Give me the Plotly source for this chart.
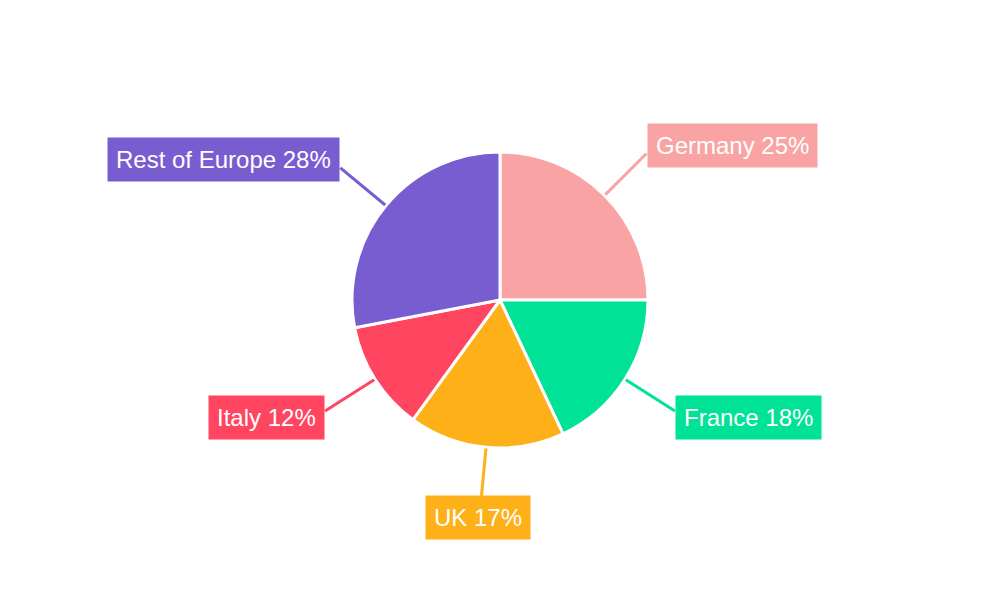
import math
import plotly.graph_objects as go

# slices, clockwise from 12 o'clock
regions = ["Germany", "France", "UK", "Italy", "Rest of Europe"]
shares = [25, 18, 17, 12, 28]
colors = ["#f9a3a4", "#00e396", "#feb019", "#ff4560", "#775dd0"]

W, H = 1000, 600
# page body adds an 8px offset, so the centre sits 8px up/left in figure space
cx, cy, r = 492, 292, 148

fig = go.Figure(go.Pie(
    labels=regions, values=shares, sort=False, direction="clockwise", rotation=0,
    marker=dict(colors=colors, line=dict(color="white", width=3)),
    textinfo="none", hoverinfo="label+percent", showlegend=False,
    domain=dict(x=[(cx - r) / W, (cx + r) / W], y=[1 - (cy + r) / H, 1 - (cy - r) / H]),
))

# leader lines + boxed labels, placed at each slice's mid angle
total = sum(shares)
acc = 0
shapes, annotations = [], []
for name, val, col in zip(regions, shares, colors):
    mid = (acc + val / 2) / total * 2 * math.pi
    acc += val
    dx, dy = math.sin(mid), -math.cos(mid)
    side = abs(dx) > 0.5
    reach = 1.4 if side else 1.33
    x0, y0 = cx + (r + 1) * dx, cy + (r + 1) * dy
    x1, y1 = cx + r * reach * dx, cy + r * reach * dy
    shapes.append(dict(type="line", xref="paper", yref="paper",
                       x0=x0 / W, y0=1 - y0 / H, x1=x1 / W, y1=1 - y1 / H,
                       line=dict(color=col, width=3)))
    pct = round(val / total * 100)
    if side:
        xa = "left" if dx > 0 else "right"
        ya = "middle"
        ty = y1 + (6 if dy > 0 else -8)
        tx = x1
    else:
        xa, ya = "center", "top"
        ty = y1 - 1
        tx = x1 - 3
    annotations.append(dict(
        x=tx / W, y=1 - ty / H, xref="paper", yref="paper",
        xanchor=xa, yanchor=ya, showarrow=False,
        text=f"{name} {pct}%", bgcolor=col, borderpad=8,
        font=dict(family="Liberation Sans, Arial, sans-serif", size=24, color="white"),
    ))

fig.update_layout(
    width=W, height=H, margin=dict(l=0, r=0, t=0, b=0),
    paper_bgcolor="white", plot_bgcolor="white",
    shapes=shapes, annotations=annotations,
)

fig.write_html("out.html")
